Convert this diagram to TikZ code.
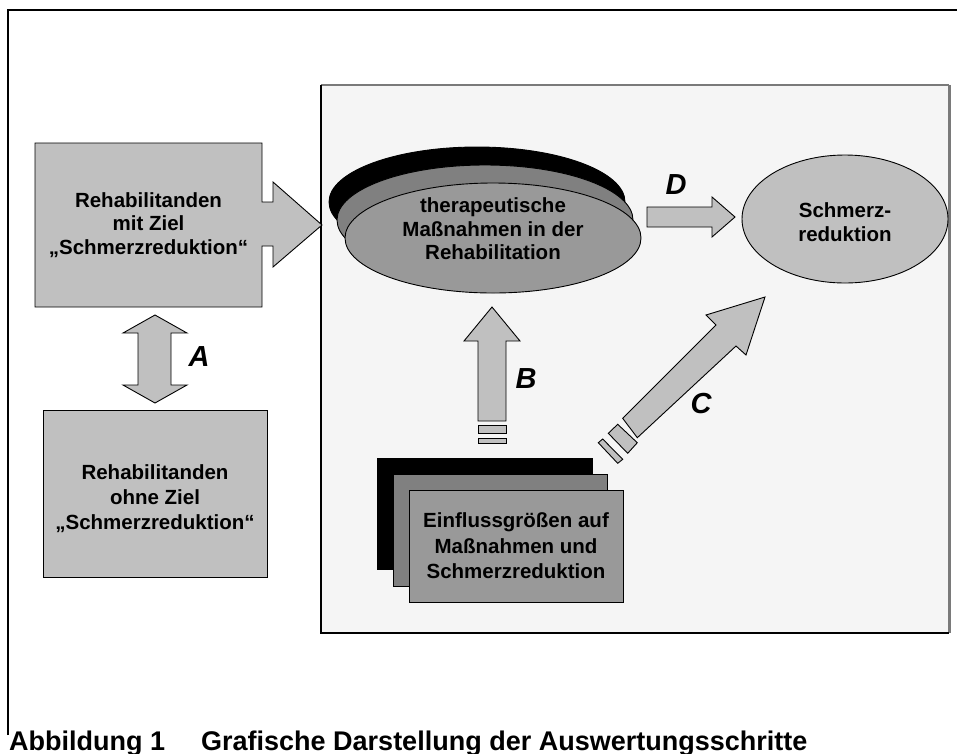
\documentclass[tikz,border=0pt]{standalone}
\usepackage{fontspec}
\setmainfont{Liberation Sans}
\usetikzlibrary{shapes.geometric}
\definecolor{boxgray}{HTML}{C0C0C0}
\definecolor{midgray}{HTML}{808080}
\definecolor{frontgray}{HTML}{999999}
\definecolor{panelfill}{HTML}{F5F5F5}
\definecolor{edgegray}{HTML}{7A7A7A}
\begin{document}
\begin{tikzpicture}[x=1pt,y=-1pt,
  shp/.style={draw=black, line width=0.9pt, line join=miter, fill=boxgray},
  txt/.style={font=\bfseries\fontsize{20.5}{23.5}\selectfont, align=center, inner sep=0pt, text=black},
  lbl/.style={font=\bfseries\itshape\fontsize{29}{29}\selectfont, inner sep=0pt},
  capt/.style={font=\bfseries\fontsize{27}{27}\selectfont, inner sep=0pt, anchor=base west},
  ell/.style={ellipse, draw=black, line width=0.9pt, minimum width=296pt, minimum height=110pt, inner sep=0pt},
  rbox/.style={rectangle, draw=black, line width=0.9pt, inner sep=0pt}]
\useasboundingbox (0,0) rectangle (957,753);
% outer frame
\draw[line width=1.3pt] (8,735) -- (8,10) -- (957,10);
% panel
\node[rectangle, fill=panelfill, minimum width=628pt, minimum height=548pt, inner sep=0pt] (panel) at (635,359) {};
\draw[edgegray, line width=1.5pt] (panel.north west) -- (panel.north east);
\draw[edgegray, line width=3pt] (panel.north east) -- (panel.south east);
\draw[black, line width=2pt] (panel.north west) -- (panel.south west) -- (panel.south east);
% box 1 with arrow
\draw[shp] (35,143) -- (262,143) -- (262,202) -- (273,202) -- (273,182) -- (322,225) -- (273,267) -- (273,246) -- (262,246) -- (262,307) -- (35,307) -- cycle;
\node[txt] (box1) at (148.5,225) {Rehabilitanden\\mit Ziel\\„Schmerzreduktion“};
% box 2
\node[rbox, fill=boxgray, minimum width=224pt, minimum height=167pt] (box2) at (155,493.5) {};
\node[txt, text depth=0pt] (box2t) at (155,497) {Rehabilitanden\\[1.5pt]ohne Ziel\\[1.5pt]„Schmerzreduktion“};
% A double arrow
\draw[shp] (155,315) -- (187,333) -- (171,333) -- (171,385) -- (187,385) -- (155,403) -- (123,385) -- (138,385) -- (138,333) -- (123,333) -- cycle;
\node[lbl] (la) at (199,357) {A};
% ellipses
\node[ell, fill=black] (ell3) at (477,202) {};
\node[ell, fill=midgray] (ell2) at (485,220) {};
\node[ell, fill=frontgray] (ell1) at (493,238) {};
\node[txt] (ell1t) at (493,229) {therapeutische\\Maßnahmen in der\\Rehabilitation};
% Schmerzreduktion
\node[ellipse, draw=black, line width=0.9pt, fill=boxgray, minimum width=206pt, minimum height=128pt, inner sep=0pt] (schmerz) at (845,219) {};
\node[txt] (schmerzt) at (845,222) {Schmerz-\\reduktion};
% D arrow
\draw[shp] (647,207) -- (712,207) -- (712,197) -- (735,217) -- (712,237) -- (712,227) -- (647,227) -- cycle;
\node[lbl] (ld) at (676,185) {D};
% stack
\node[rbox, fill=black, minimum width=215pt, minimum height=111pt] (st3) at (484.5,513.5) {};
\node[rbox, fill=midgray, minimum width=214pt, minimum height=112pt] (st2) at (500,530) {};
\node[rbox, fill=frontgray, minimum width=214pt, minimum height=112pt] (st1) at (516,546) {};
\node[txt, font=\bfseries\fontsize{20.5}{25.5}\selectfont] (st1t) at (516,546) {Einflussgrößen auf\\Maßnahmen und\\Schmerzreduktion};
% B arrow
\draw[shp] (492,307) -- (520,341) -- (506,341) -- (506,421) -- (478,421) -- (478,341) -- (464,341) -- cycle;
\draw[shp] (478,425) rectangle (506,433);
\draw[shp] (478,438) rectangle (506,443);
\node[lbl] (lb) at (526,379) {B};
% C arrow
\draw[shp] (622.7,418.3) -- (716,325) -- (706,315) -- (765,297) -- (746,355) -- (736,346) -- (637.3,437.7) -- cycle;
\draw[shp] (608.3,433.3) -- (617.7,424.3) -- (637.3,442.7) -- (627.7,453.3) -- cycle;
\draw[shp] (598.3,442.7) -- (602.7,439) -- (622.7,459.3) -- (617.7,463.3) -- cycle;
\node[lbl] (lc) at (701,404) {C};
% caption
\node[capt] (cap1) at (9,750) {Abbildung 1};
\node[capt] (cap2) at (201,750) {Grafische Darstellung der Auswertungsschritte};
\end{tikzpicture}
\end{document}
